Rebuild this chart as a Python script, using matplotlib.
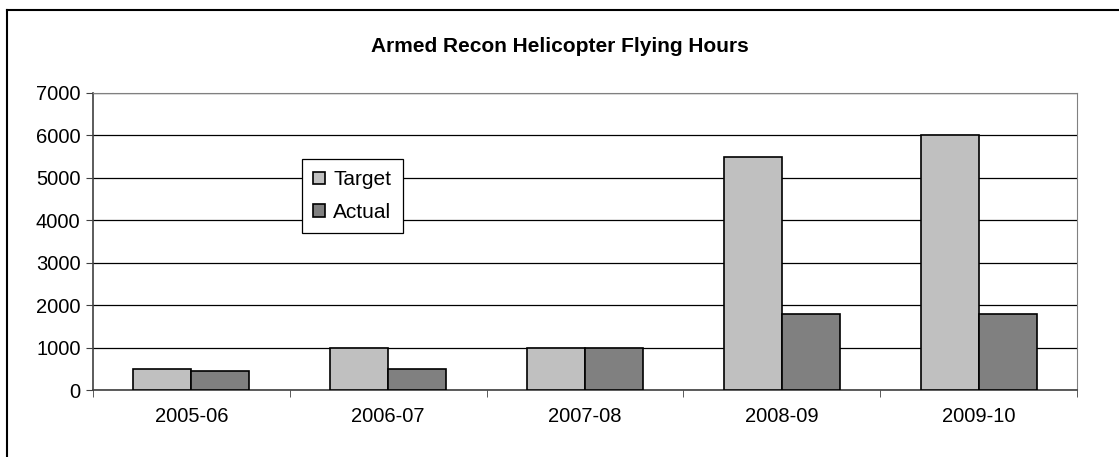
import matplotlib
matplotlib.use("Agg")
import matplotlib.pyplot as plt
import numpy as np
from matplotlib.lines import Line2D

categories = ["2005-06", "2006-07", "2007-08", "2008-09", "2009-10"]
target = [500, 1000, 1000, 5500, 6000]
actual = [450, 500, 1000, 1800, 1800]
yticks = [0, 1000, 2000, 3000, 4000, 5000, 6000, 7000]

plt.rcParams['font.family'] = ['Liberation Sans', 'DejaVu Sans']

W, H = 1119, 457
fig = plt.figure(figsize=(W / 100, H / 100), dpi=100)
fig.patch.set_facecolor("white")
# outer chart border (only left and top visible in the cropped reference)
fig.lines.append(Line2D([6.5 / W, 6.5 / W], [0, 1 - 10 / H], transform=fig.transFigure, color="black", lw=1.5))
fig.lines.append(Line2D([6.5 / W, 1], [1 - 10 / H, 1 - 10 / H], transform=fig.transFigure, color="black", lw=1.5))

left, right, top, bottom = 93, 1077, 93, 390
ax = fig.add_axes([left / W, 1 - bottom / H, (right - left) / W, (bottom - top) / H])

x = np.arange(len(categories))
bw = 0.295
ax.bar(x - bw / 2, target, bw, color="#c0c0c0", edgecolor="black", lw=1.2, label="Target", zorder=3)
ax.bar(x + bw / 2, actual, bw, color="#808080", edgecolor="black", lw=1.2, label="Actual", zorder=3)

fs = 14.5
ax.set_xlim(-0.5, len(categories) - 0.5)
ax.set_ylim(0, 7000)
ax.set_yticks(yticks)
ax.set_yticklabels([str(v) for v in yticks], fontsize=fs)
ax.set_xticks(x)
ax.set_xticklabels(categories, fontsize=fs)
ax.set_xticks(np.arange(len(categories) + 1) - 0.5, minor=True)
ax.tick_params(axis="x", which="major", length=0, pad=12)
ax.tick_params(axis="x", which="minor", length=5, direction="out", color="#404040")
ax.tick_params(axis="y", length=5, direction="out", color="#404040", pad=4)
ax.grid(axis="y", color="black", lw=0.9, zorder=0)
for s in ["top", "right"]:
    ax.spines[s].set_color("#808080")
for s in ["left", "bottom"]:
    ax.spines[s].set_color("#404040")
    ax.spines[s].set_linewidth(1.2)

fig.text(0.5, 1 - 47 / H, "Armed Recon Helicopter Flying Hours", ha="center", va="center",
         fontsize=15, fontweight="bold")

leg = ax.legend(loc="upper left", bbox_to_anchor=((302 - left) / (right - left), 1 - (159 - top) / (bottom - top)),
                fontsize=15, frameon=True, fancybox=False, edgecolor="black", framealpha=1,
                handlelength=0.55, handleheight=0.55, handletextpad=0.4, borderpad=0.55,
                labelspacing=0.65, borderaxespad=0)
leg.get_frame().set_linewidth(0.9)

fig.savefig("out.png", dpi=100, facecolor="white")
